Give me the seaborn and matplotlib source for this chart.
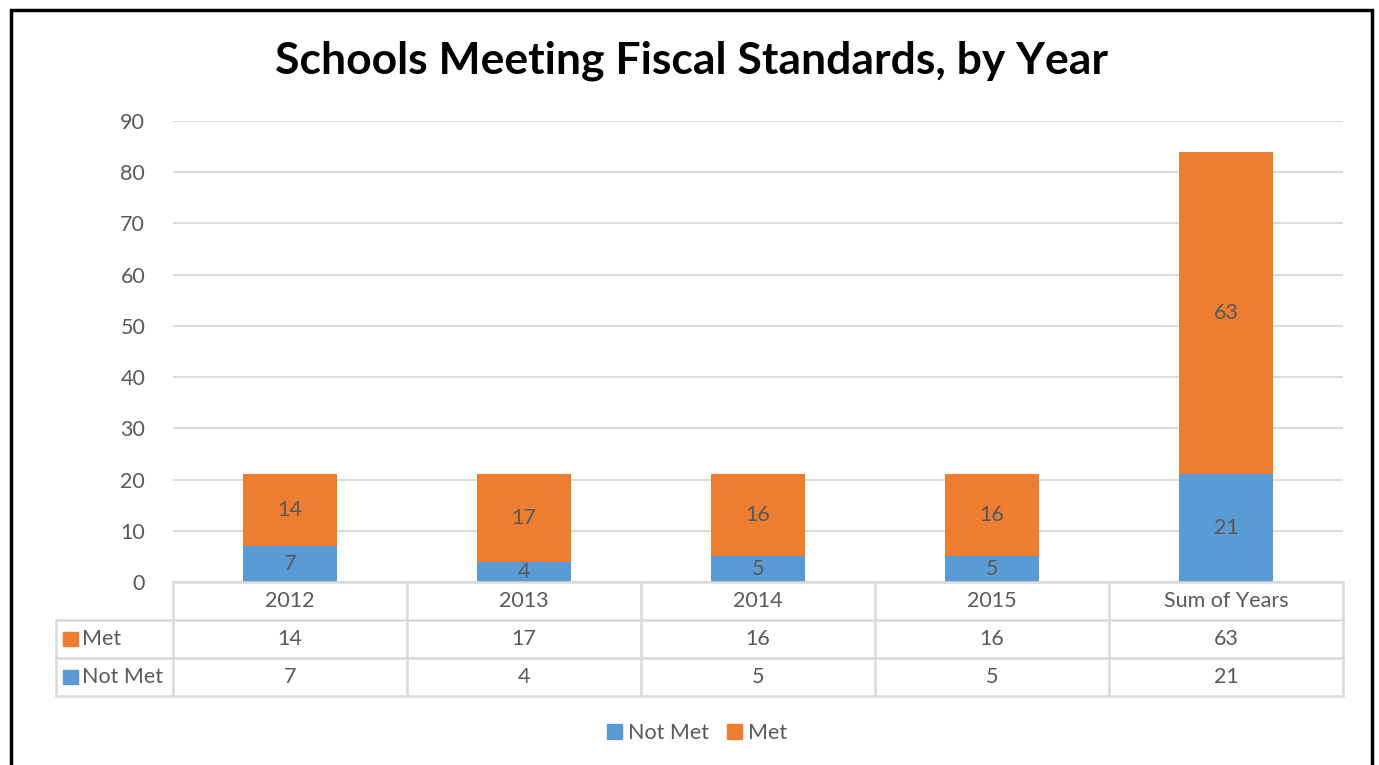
import matplotlib
matplotlib.use("Agg")
import matplotlib.pyplot as plt
import seaborn as sns
import pandas as pd
from matplotlib.patches import Rectangle

categories = ["2012", "2013", "2014", "2015", "Sum of Years"]
not_met = [7, 4, 5, 5, 21]
met = [14, 17, 16, 16, 63]
yticks = [0, 10, 20, 30, 40, 50, 60, 70, 80, 90]

BLUE = "#5B9BD5"
ORANGE = "#ED7D31"
TXT = "#595959"
GRID = "#D9D9D9"
FS = 15.5

sns.set_theme(style="white")
plt.rcParams["font.family"] = ["Lato", "DejaVu Sans"]

W, H = 1379, 765
fig = plt.figure(figsize=(W / 100, H / 100), dpi=100)

def fx(px):
    return px / W

def fy(py):
    return 1 - py / H

# Outer border
fig.patches.append(Rectangle((fx(11), fy(800)), fx(1372) - fx(11), fy(10) - fy(800),
                             transform=fig.transFigure, fill=False, edgecolor="black",
                             linewidth=2.5, zorder=10))

ax = fig.add_axes([fx(173), fy(582), fx(1343) - fx(173), fy(121) - fy(582)])

df = pd.DataFrame({"cat": categories, "not_met": not_met, "met": met})
df["total"] = df["not_met"] + df["met"]

sns.barplot(data=df, x="cat", y="total", color=ORANGE, width=0.4, ax=ax,
            saturation=1, order=categories, zorder=3, linewidth=0)
sns.barplot(data=df, x="cat", y="not_met", color=BLUE, width=0.4, ax=ax,
            saturation=1, order=categories, zorder=3, linewidth=0)

for i, (nm, m) in enumerate(zip(not_met, met)):
    ax.text(i, nm / 2, str(nm), ha="center", va="center", fontsize=FS, color=TXT, zorder=5)
    ax.text(i, nm + m / 2, str(m), ha="center", va="center", fontsize=FS, color=TXT, zorder=5)

ax.set_xlim(-0.5, 4.5)
ax.set_ylim(0, 90)
ax.set_yticks(yticks)
ax.set_yticklabels([str(t) for t in yticks], fontsize=FS, color=TXT)
ax.tick_params(axis="y", length=0, pad=20)
ax.set_xticks([])
ax.set_xlabel("")
ax.set_ylabel("")
ax.yaxis.grid(True, color=GRID, linewidth=1.3, zorder=0)
ax.set_axisbelow(True)
for s in ax.spines.values():
    s.set_visible(False)

# Data table axes
tab = fig.add_axes([fx(56), fy(696), fx(1343) - fx(56), fy(582) - fy(696)])
tab.set_xlim(-1.0, 4.5)
tab.set_ylim(3, 0)
tab.axis("off")
lc = dict(color=GRID, linewidth=1.8, clip_on=False)
tab.plot([-0.5, 4.5], [0, 0], **lc)
for yv in (1, 2, 3):
    tab.plot([-1.0, 4.5], [yv, yv], **lc)
tab.plot([-1.0, -1.0], [1, 3], **lc)
for xv in [-0.5 + k for k in range(6)]:
    tab.plot([xv, xv], [0, 3], **lc)

for i, c in enumerate(categories):
    tab.text(i, 0.5, c, ha="center", va="center", fontsize=FS, color=TXT)
    tab.text(i, 1.5, str(met[i]), ha="center", va="center", fontsize=FS, color=TXT)
    tab.text(i, 2.5, str(not_met[i]), ha="center", va="center", fontsize=FS, color=TXT)

for row, (lab, col) in enumerate([("Met", ORANGE), ("Not Met", BLUE)]):
    yc = 1.5 + row
    tab.add_patch(Rectangle((-0.969, yc - 0.19), 0.062, 0.38, color=col, clip_on=False))
    tab.text(-0.888, yc, lab, ha="left", va="center", fontsize=FS, color=TXT)

# Legend at bottom
handles = [Rectangle((0, 0), 1, 1, color=BLUE), Rectangle((0, 0), 1, 1, color=ORANGE)]
fig.legend(handles, ["Not Met", "Met"], loc="center", bbox_to_anchor=(fx(697), fy(733)),
           ncol=2, frameon=False, fontsize=FS, handlelength=0.7, handleheight=0.7,
           handletextpad=0.25, columnspacing=0.85, labelcolor=TXT)

fig.text(fx(691), fy(61), "Schools Meeting Fiscal Standards, by Year", ha="center", va="center",
         fontsize=32, fontweight="bold", color="black")

fig.savefig("out.png", dpi=100)
